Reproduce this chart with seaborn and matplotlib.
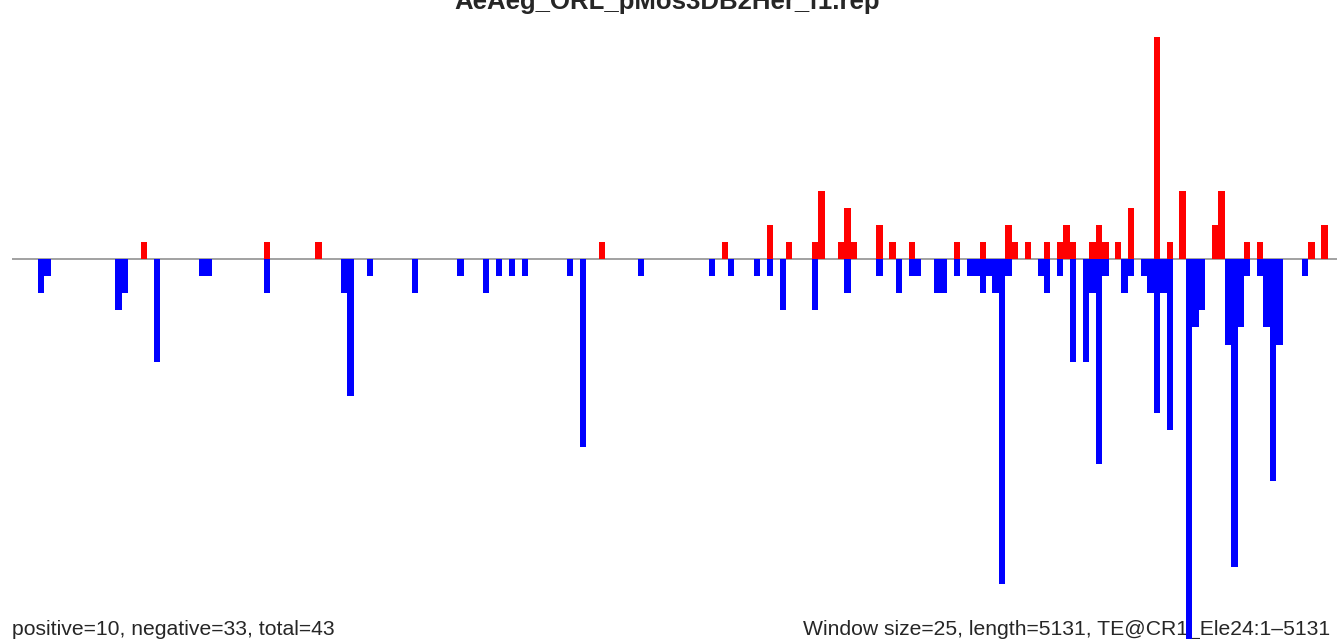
import numpy as np
import pandas as pd
import matplotlib
matplotlib.use('Agg')
import matplotlib.pyplot as plt
import seaborn as sns

# window bins (window size 25, length 5131 -> 206 windows)
n_bins = 206
pos_bins = [20, 39, 47, 91, 110, 117, 120, 124, 125, 128, 129, 130, 134, 136, 139, 146,
            150, 154, 155, 157, 160, 162, 163, 164, 167, 168, 169, 171, 173, 177, 179,
            181, 186, 187, 191, 193, 201, 203]
pos_vals = [1, 1, 1, 1, 1, 2, 1, 1, 4, 1, 3, 1, 2, 1, 1, 1,
            1, 2, 1, 1, 1, 1, 2, 1, 1, 2, 1, 1, 3, 13, 1,
            4, 2, 4, 1, 1, 1, 2]
neg_bins = [4, 5, 16, 17, 22, 29, 30, 39, 51, 52, 55, 62, 69, 73, 75, 77, 79, 86, 88, 97,
            108, 111, 115, 117, 119, 124, 129, 134, 137, 139, 140, 143, 144, 146, 148, 149,
            150, 151, 152, 153, 154, 159, 160, 162, 164, 166, 167, 168, 169, 172, 173, 175,
            176, 177, 178, 179, 182, 183, 184, 188, 189, 190, 191, 193, 194, 195, 196, 200]
neg_vals = [-2, -1, -3, -2, -6, -1, -1, -2, -2, -8, -1, -2, -1, -2, -1, -1, -1, -1, -11, -1,
            -1, -1, -1, -1, -3, -3, -2, -1, -2, -1, -1, -2, -2, -1, -1, -1,
            -2, -1, -2, -19, -1, -1, -2, -1, -6, -6, -2, -12, -1, -2, -1, -1,
            -2, -9, -2, -10, -23, -4, -3, -5, -18, -4, -1, -1, -4, -13, -5, -1]

title = 'AeAeg_ORL_pMos3DB2Her_f1.rep'
left_note = 'positive=10, negative=33, total=43'
right_note = 'Window size=25, length=5131, TE@CR1_Ele24:1\u20135131'

pos = np.zeros(n_bins)
pos[pos_bins] = pos_vals
neg = np.zeros(n_bins)
neg[neg_bins] = neg_vals
df = pd.DataFrame({'bin': np.arange(n_bins), 'pos': pos, 'neg': neg})

sns.set_theme(style='white')
plt.rcParams['font.family'] = ['Liberation Sans', 'DejaVu Sans']

fig = plt.figure(figsize=(13.37, 6.39), dpi=100)
W, H = 1337, 639
ax = fig.add_axes([12 / W, 0, 1 - 12 / W, 1])

ax.axhline(0, color='#9a9a9a', lw=1.3, zorder=1)
sns.barplot(data=df, x='bin', y='pos', color='#ff0000', saturation=1, width=1,
            linewidth=0, errorbar=None, ax=ax, zorder=2)
sns.barplot(data=df, x='bin', y='neg', color='#0000ff', saturation=1, width=1,
            linewidth=0, errorbar=None, ax=ax, zorder=2)

px_bin = 6.45
unit = 17.1
ax.set_xlim(-0.5, -0.5 + (W - 12) / px_bin)
ax.set_ylim(-(H - 259) / unit, 259 / unit)
ax.axis('off')

fig.text(667.5 / W, 1 - 9 / H, title, ha='center', va='baseline',
         fontsize=18.5, fontweight='bold')
fig.text(12 / W, 1 - 635 / H, left_note, ha='left', va='baseline', fontsize=15.2)
fig.text(1330 / W, 1 - 635 / H, right_note, ha='right', va='baseline', fontsize=15.2,
         zorder=0)
ax.set_zorder(2)
ax.patch.set_visible(False)

fig.savefig('out.png', dpi=100)
